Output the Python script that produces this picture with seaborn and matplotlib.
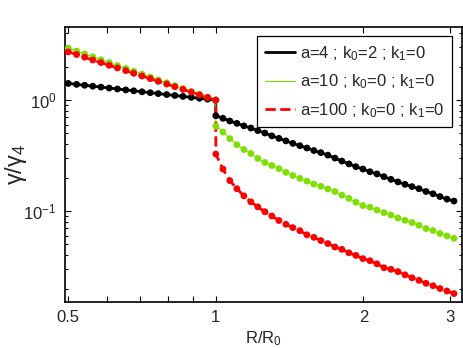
import matplotlib
matplotlib.use("Agg")
import matplotlib.pyplot as plt
from matplotlib.ticker import LogLocator, NullLocator, NullFormatter
import seaborn as sns
import pandas as pd

# R/R0 sample points: inner part (R <= 1) and outer part (R >= 1)
r_inner = [0.500, 0.520, 0.540, 0.561, 0.583, 0.606, 0.630, 0.655, 0.680, 0.707,
           0.735, 0.763, 0.794, 0.825, 0.857, 0.891, 0.926, 0.962, 1.000]
r_outer = [1.000, 1.034, 1.068, 1.104, 1.141, 1.179, 1.218, 1.259, 1.301, 1.345,
           1.390, 1.436, 1.484, 1.534, 1.585, 1.638, 1.693, 1.750, 1.808, 1.869,
           1.931, 1.996, 2.063, 2.132, 2.203, 2.277, 2.353, 2.432, 2.513, 2.597,
           2.684, 2.774, 2.866, 2.962, 3.061]

# a=4 ; k0=2 ; k1=0
a4_inner = [1.414, 1.387, 1.361, 1.335, 1.310, 1.285, 1.260, 1.236, 1.213, 1.189,
            1.167, 1.145, 1.122, 1.101, 1.080, 1.059, 1.039, 1.020, 1.000]
a4_outer = [0.723, 0.686, 0.648, 0.617, 0.586, 0.560, 0.531, 0.505, 0.476, 0.452,
            0.429, 0.407, 0.388, 0.370, 0.351, 0.336, 0.319, 0.300, 0.282, 0.266,
            0.251, 0.239, 0.226, 0.216, 0.204, 0.193, 0.183, 0.174, 0.166, 0.159,
            0.150, 0.143, 0.135, 0.128, 0.123]

# a=10 ; k0=0 ; k1=0
a10_inner = [2.94, 2.77, 2.61, 2.46, 2.31, 2.18, 2.05, 1.93, 1.82, 1.715,
             1.615, 1.521, 1.433, 1.349, 1.271, 1.197, 1.127, 1.062, 1.000]
a10_outer = [0.583, 0.515, 0.450, 0.397, 0.358, 0.330, 0.298, 0.274, 0.257, 0.241,
             0.223, 0.209, 0.197, 0.186, 0.175, 0.167, 0.158, 0.150, 0.139, 0.130,
             0.120, 0.112, 0.108, 0.102, 0.0968, 0.0920, 0.0865, 0.0824, 0.0787, 0.0743,
             0.0695, 0.0667, 0.0627, 0.0596, 0.0567]

# a=100 ; k0=0 ; k1=0
a100_inner = [2.72, 2.58, 2.44, 2.30, 2.18, 2.06, 1.95, 1.845, 1.745, 1.650,
              1.561, 1.476, 1.396, 1.321, 1.249, 1.182, 1.118, 1.057, 1.000]
a100_outer = [0.326, 0.239, 0.188, 0.159, 0.137, 0.121, 0.109, 0.0986, 0.0902, 0.0821,
              0.0760, 0.0708, 0.0665, 0.0610, 0.0579, 0.0541, 0.0509, 0.0474, 0.0451, 0.0420,
              0.0398, 0.0372, 0.0356, 0.0334, 0.0308, 0.0298, 0.0284, 0.0266, 0.0250, 0.0237,
              0.0223, 0.0212, 0.0200, 0.0190, 0.0180]

labels = ["a=4 ; k$_0$=2 ; k$_1$=0",
          "a=10 ; k$_0$=0 ; k$_1$=0",
          "a=100 ; k$_0$=0 ; k$_1$=0"]

sns.set_style("white")
plt.rcParams['font.family'] = ['Liberation Sans', 'DejaVu Sans']
plt.rcParams['mathtext.default'] = 'regular'

r_all = r_inner + r_outer
series = [a4_inner + a4_outer, a10_inner + a10_outer, a100_inner + a100_outer]
colors = ['black', '#7ee000', '#ff0000']
widths = [2.0, 0.8, 2.0]
styles = ['-', '-', '--']

fig = plt.figure(figsize=(4.63, 3.48), dpi=100)
ax = fig.add_axes([0.140, 0.132, 0.858, 0.790])

for vals, col, lw, ls, lab in zip(series, colors, widths, styles, labels):
    df = pd.DataFrame({'R': r_all, 'g': vals})
    sns.lineplot(data=df, x='R', y='g', color=col, lw=lw, linestyle=ls,
                 estimator=None, sort=False, label=lab, ax=ax, zorder=2)
    sns.scatterplot(data=df, x='R', y='g', color=col, s=24, edgecolor='none',
                    ax=ax, zorder=3, legend=False)

ax.set_xscale('log')
ax.set_yscale('log')
ax.set_xlim(0.492, 3.18)
ax.set_ylim(0.0151, 4.55)

ax.set_xticks([0.5, 0.6, 0.7, 0.8, 0.9, 1, 2, 3])
ax.set_xticklabels(['0.5', '', '', '', '', '1', '2', '3'])
ax.xaxis.set_minor_locator(NullLocator())
ax.yaxis.set_major_locator(LogLocator(base=10, numticks=10))
ax.yaxis.set_minor_locator(LogLocator(base=10, subs=[2, 3, 4, 5, 6, 7, 8, 9], numticks=20))
ax.yaxis.set_minor_formatter(NullFormatter())
ax.tick_params(which='both', direction='in', top=True, right=True, left=True, bottom=True,
               labelsize=12, color='black', width=0.8, pad=6)
ax.tick_params(which='major', length=4)
ax.tick_params(which='minor', length=2.5)
for sp in ax.spines.values():
    sp.set_color('black')
    sp.set_linewidth(1.2)

ax.set_xlabel("R/R$_0$", fontsize=12, labelpad=3)
ax.set_ylabel("γ/γ$_4$", fontsize=17)
ax.yaxis.set_label_coords(-0.09, 0.5)

handles, labs = ax.get_legend_handles_labels()
leg = ax.legend(handles, labs, loc='upper right', fontsize=12, frameon=True,
                fancybox=False, framealpha=1, edgecolor='black',
                handlelength=1.8, handletextpad=0.3, labelspacing=0.6,
                borderpad=0.45, bbox_to_anchor=(0.995, 0.997))
leg.get_frame().set_linewidth(0.9)

fig.savefig("out.png", dpi=100)
